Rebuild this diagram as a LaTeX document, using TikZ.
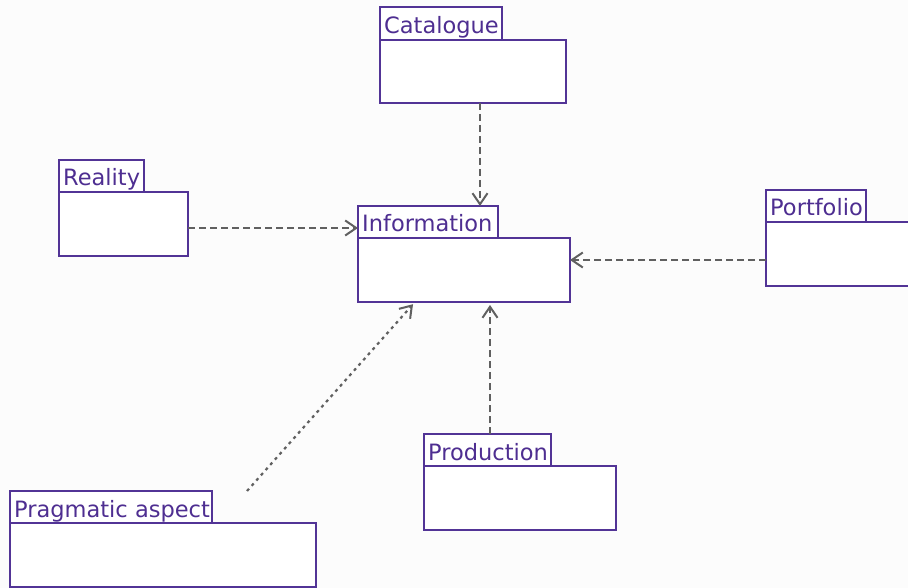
\documentclass[tikz,border=0pt]{standalone}
\usepackage{fontspec}
\setmainfont{DejaVu Sans}
\usetikzlibrary{arrows.meta}

\definecolor{pkgline}{RGB}{82,52,150}
\definecolor{pkgtext}{RGB}{78,46,145}
\definecolor{deplink}{RGB}{96,96,96}
\definecolor{canvas}{RGB}{252,252,252}

\tikzset{
  pkgtab/.style={draw=pkgline, line width=2.4pt, fill=white, anchor=north west, inner sep=0pt, outer sep=0pt},
  pkgbody/.style={draw=pkgline, line width=2.4pt, fill=white, anchor=north west, inner sep=0pt, outer sep=0pt},
  pkgname/.style={text=pkgtext, font=\fontsize{22.5}{27}\selectfont, anchor=base west, inner sep=0pt},
  dep/.style={draw=deplink, line width=2.2pt, dash pattern=on 7pt off 4pt,
    -{Straight Barb[length=11pt,width=15pt,line width=2pt]}}
}

\begin{document}
\begin{tikzpicture}[x=1pt, y=-1pt]
  \fill[canvas] (0,0) rectangle (908,588);
  \useasboundingbox (0,0) rectangle (908,588);
  \clip (0,0) rectangle (908,588);

  % Catalogue
  \node[pkgtab, minimum width=122pt, minimum height=33pt] (catT) at (380,7) {};
  \node[pkgbody, minimum width=186pt, minimum height=63pt] (catB) at (catT.south west) {};
  \node[pkgname] (catN) at ([xshift=4pt,yshift=6pt]catT.south west) {Catalogue};

  % Reality
  \node[pkgtab, minimum width=85pt, minimum height=32pt] (reaT) at (59,160) {};
  \node[pkgbody, minimum width=129pt, minimum height=64pt] (reaB) at (reaT.south west) {};
  \node[pkgname] (reaN) at ([xshift=4pt,yshift=6pt]reaT.south west) {Reality};

  % Information
  \node[pkgtab, minimum width=140pt, minimum height=32pt] (infT) at (358,206) {};
  \node[pkgbody, minimum width=212pt, minimum height=64pt] (infB) at (infT.south west) {};
  \node[pkgname] (infN) at ([xshift=4pt,yshift=6pt]infT.south west) {Information};

  % Portfolio
  \node[pkgtab, minimum width=100pt, minimum height=32pt] (porT) at (766,190) {};
  \node[pkgbody, minimum width=164pt, minimum height=64pt] (porB) at (porT.south west) {};
  \node[pkgname] (porN) at ([xshift=4pt,yshift=6pt]porT.south west) {Portfolio};

  % Pragmatic aspect
  \node[pkgtab, minimum width=202pt, minimum height=32pt] (praT) at (10,491) {};
  \node[pkgbody, minimum width=306pt, minimum height=64pt] (praB) at (praT.south west) {};
  \node[pkgname] (praN) at ([xshift=4pt,yshift=6pt]praT.south west) {Pragmatic aspect};

  % Production
  \node[pkgtab, minimum width=127pt, minimum height=32pt] (proT) at (424,434) {};
  \node[pkgbody, minimum width=192pt, minimum height=64pt] (proB) at (proT.south west) {};
  \node[pkgname] (proN) at ([xshift=4pt,yshift=6pt]proT.south west) {Production};

  % Dependencies towards Information
  \draw[dep] ([xshift=7pt]catB.south) -- ([xshift=52pt]infT.north);
  \draw[dep] ([yshift=-4pt]reaB.east) -- ([yshift=-6pt]infT.west);
  \draw[dep] ([yshift=-6pt]porB.west) -- ([yshift=10pt]infB.east);
  \draw[dep, shorten >=3pt] ([xshift=2.5pt]proT.north) -- ([xshift=26pt]infB.south);
  \coordinate (praFrom) at (247,491);
  \draw[dep, dash pattern=on 3pt off 4pt, shorten >=3pt] (praFrom) -- ([xshift=-49pt]infB.south);
\end{tikzpicture}
\end{document}
